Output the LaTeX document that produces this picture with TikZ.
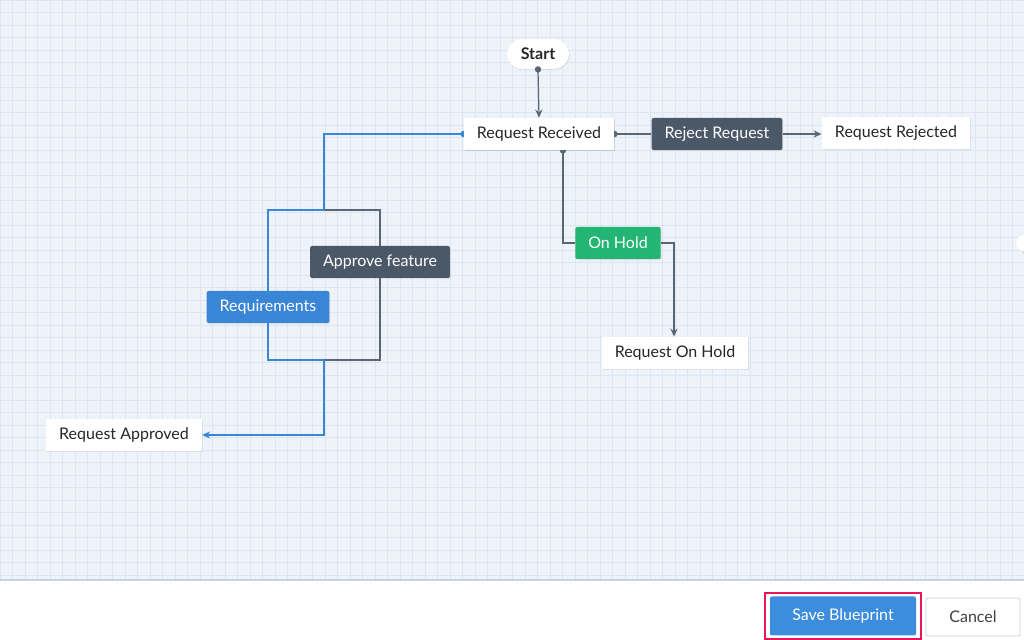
\documentclass[tikz,border=0pt]{standalone}
\usepackage{fontspec}
\setmainfont{Lato}
\usetikzlibrary{shadows, arrows.meta, positioning}
\definecolor{canvas}{HTML}{EEF3FA}
\definecolor{gridc}{HTML}{DCE5F0}
\definecolor{slate}{HTML}{4A5868}
\definecolor{flowblue}{HTML}{3A86D6}
\definecolor{holdgreen}{HTML}{22B573}
\definecolor{btnblue}{HTML}{3C8DDE}
\definecolor{btnpink}{HTML}{E8175D}
\definecolor{linkgray}{HTML}{5A6674}
\begin{document}
\begin{tikzpicture}[
            x=0.5pt, y=-0.5pt,
            font=\fontsize{8}{9.5}\selectfont,
            state/.style={
                draw=none,
                fill=white,
                rectangle,
                text=black!85,
                drop shadow={shadow xshift=0.4pt, shadow yshift=-0.6pt, opacity=0.15},
                minimum height=16pt,
                inner xsep=6.5pt
            },
            action/.style={
                state,
                fill=slate,
                text=white,
                rounded corners=1pt
            },
            link/.style={
                draw=linkgray,
                line width=0.6pt
            },
            arrow/.style={
                link,
                -{Stealth[length=4pt, width=3.6pt]}
            }
        ]
            \useasboundingbox (0,0) rectangle (1024,640);

            % canvas and footer
            \fill[canvas] (0,0) rectangle (1024,580);
            \draw[gridc, line width=0.3pt, step=6.25pt] (0,0) grid (1024,580);
            \fill[white] (0,580) rectangle (1024,640);
            \draw[gridc!80!gray, line width=0.6pt] (0,580) -- (1024,580);
            \fill[white, drop shadow={opacity=0.2}] (1024,243) circle (4pt);

            % states
            \node[state, rounded corners=8pt, minimum width=31pt, minimum height=15pt, font=\fontsize{8}{9.5}\selectfont\bfseries] (start) at (538,54) {Start};
            \node[state] (received) at (539,134) {Request Received};
            \node[action] (reject) at (717,134) {Reject Request};
            \node[state] (rejected) at (896,133) {Request Rejected};
            \node[action, fill=holdgreen] (hold) at (618,243) {On Hold};
            \node[state] (onhold) at (675,353) {Request On Hold};
            \node[action] (approve) at (380,262) {Approve feature};
            \node[action, fill=flowblue] (requirements) at (268,307) {Requirements};
            \node[state] (approved) at (124,435) {Request Approved};

            % corners of the approval loop
            \coordinate (split) at (324,210);
            \coordinate (join) at (324,360);

            % grey connectors
            \draw[arrow] (start.south) -- (received.north);
            \draw[link] (received.east) -- (reject.west);
            \draw[arrow] (reject.east) -- (rejected.west |- reject.east);
            \draw[link] (received.south -| 563,0) |- (hold.west);
            \draw[arrow] (hold.east) -| (onhold.north -| 674,0);
            \draw[link] (split) -| (approve.north);
            \draw[link] (approve.south) |- (join);

            % blue connectors
            \draw[link, draw=flowblue] (received.west) -| (split);
            \draw[link, draw=flowblue] (split) -| (requirements.north);
            \draw[link, draw=flowblue] (requirements.south) |- (join);
            \draw[arrow, draw=flowblue] (join) |- (approved.east);

            % port dots
            \fill[linkgray] (start.south) circle (1.6pt);
            \fill[linkgray] (received.east) circle (1.6pt);
            \fill[linkgray] (received.south -| 563,0) circle (1.6pt);
            \fill[flowblue] (received.west) circle (1.6pt);
            \node[state] at (received) {Request Received};

            % footer buttons
            \node[draw=btnpink, line width=1.2pt, minimum width=78pt, minimum height=23pt] (savering) at (843,616) {};
            \node[fill=btnblue, text=white, rounded corners=1pt, minimum width=73pt, minimum height=19.5pt] (save) at (843,616) {Save Blueprint};
            \node[draw=black!20, fill=white, rounded corners=1pt, minimum width=47pt, minimum height=19pt, text=black!75] (cancel) at (973,617) {Cancel};

        \end{tikzpicture}
\end{document}
